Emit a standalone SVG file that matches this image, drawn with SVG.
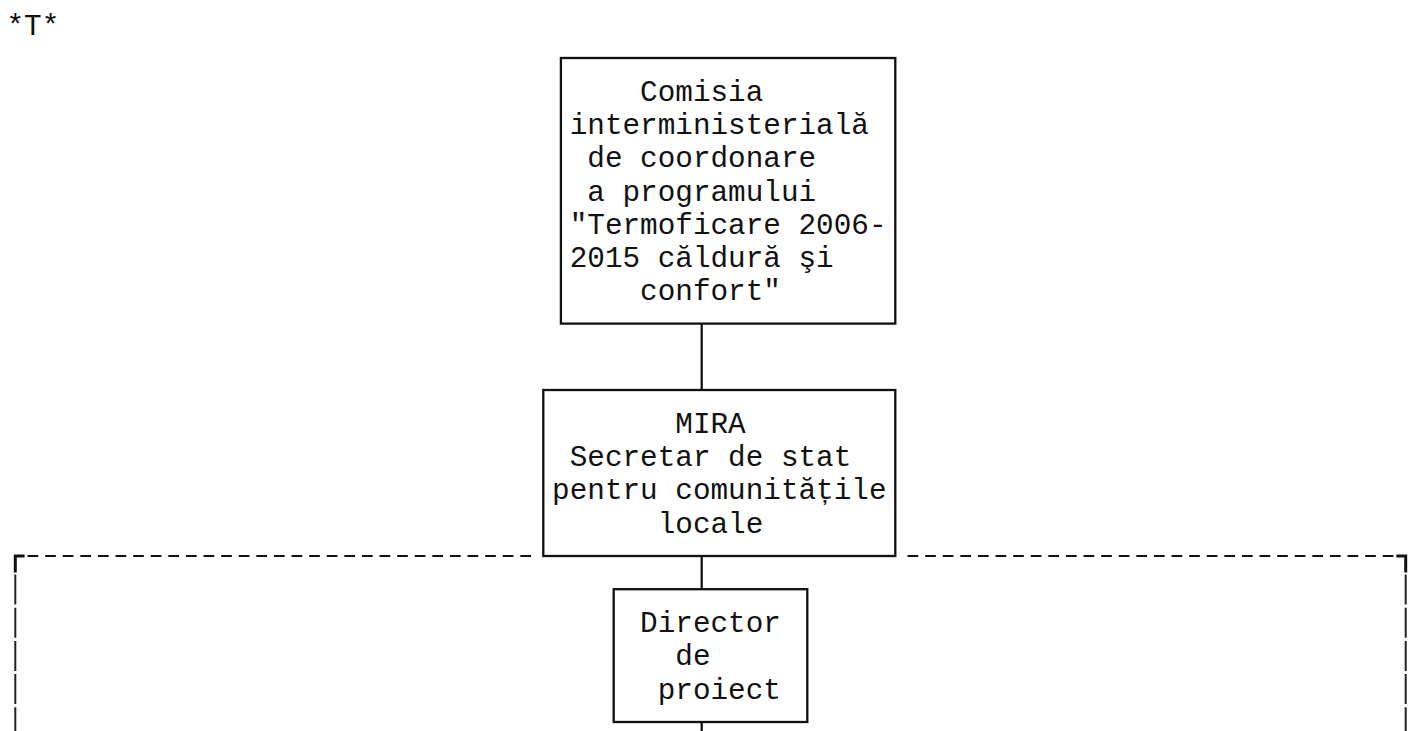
<svg xmlns="http://www.w3.org/2000/svg" width="1411" height="731" viewBox="0 0 1411 731">
<style>
  text { font-family: "Liberation Mono", "Courier New", "DejaVu Sans Mono", monospace; font-size: 29.33px; fill: #111; }
  .box { fill: none; stroke: #111; stroke-width: 2.3; }
  .conn { stroke: #111; stroke-width: 2.3; fill: none; }
  .dashh { stroke: #111; stroke-width: 2; stroke-dasharray: 10.7 6.9; fill: none; }
  .dashv { stroke: #222; stroke-width: 2; stroke-dasharray: 30 3.2; fill: none; }
  .corner { stroke: #111; stroke-width: 3; fill: none; }
</style>
<rect width="1411" height="731" fill="#ffffff"/>
<text x="6.5" y="34.6">*T*</text>

<g id="frame">
  <line class="dashh" x1="27.55" y1="556" x2="531.05" y2="556"/>
  <line class="dashh" x1="907.55" y1="556" x2="1393.45" y2="556"/>
  <polyline class="corner" points="24.6,556 15.3,556 15.3,572.6"/>
  <polyline class="corner" points="1396.4,556 1405.7,556 1405.7,572.6"/>
  <line class="dashv" x1="15.3" y1="574.5" x2="15.3" y2="731"/>
  <line class="dashv" x1="1405.7" y1="574.5" x2="1405.7" y2="731"/>
</g>

<g id="connectors">
  <line class="conn" x1="701.7" y1="323.6" x2="701.7" y2="390"/>
  <line class="conn" x1="701.7" y1="556" x2="701.7" y2="589.2"/>
  <line class="conn" x1="701.7" y1="722" x2="701.7" y2="731"/>
</g>

<g id="comisia">
  <rect class="box" x="560.9" y="58" width="334.4" height="265.6"/>
  <text x="640.1" y="101">Comisia</text>
  <text x="569.7" y="134.2">interministerială</text>
  <text x="587.3" y="167.4">de coordonare</text>
  <text x="587.3" y="200.6">a programului</text>
  <text x="569.7" y="233.8">"Termoficare 2006-</text>
  <text x="569.7" y="267">2015 căldură şi</text>
  <text x="640.1" y="300.2">confort"</text>
</g>

<g id="mira">
  <rect class="box" x="543.3" y="390" width="352" height="166"/>
  <text x="675.3" y="433">MIRA</text>
  <text x="569.7" y="466.2">Secretar de stat</text>
  <text x="552.1" y="499.4">pentru comunitățile</text>
  <text x="657.7" y="532.6">locale</text>
</g>

<g id="director">
  <rect class="box" x="613.7" y="589.2" width="193.6" height="132.8"/>
  <text x="640.1" y="632.2">Director</text>
  <text x="675.3" y="665.4">de</text>
  <text x="657.7" y="698.6">proiect</text>
</g>
</svg>
